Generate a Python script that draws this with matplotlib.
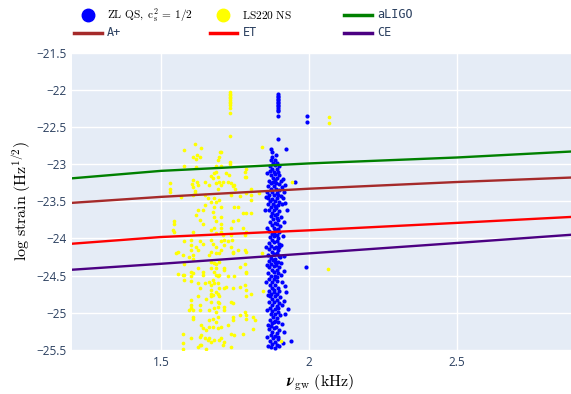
import matplotlib
matplotlib.use("Agg")
import matplotlib.pyplot as plt
from matplotlib.lines import Line2D
from matplotlib.ticker import FuncFormatter

plt.rcParams["mathtext.fontset"] = "cm"

# detector sensitivity curves (log strain vs frequency in kHz)
freq = [1.2, 1.5, 2.0, 2.5, 2.885]
aligo = [-23.19, -23.09, -22.99, -22.91, -22.83]
aplus = [-23.52, -23.44, -23.33, -23.24, -23.18]
et = [-24.07, -23.98, -23.89, -23.79, -23.71]
ce = [-24.42, -24.34, -24.20, -24.06, -23.95]

# ZL QS points
zl_stack = [(1.895, y) for y in [-22.06, -22.08, -22.10, -22.12, -22.14, -22.16,
                                  -22.18, -22.20, -22.22, -22.24, -22.27, -22.29,
                                  -22.35, -22.66]]
zl_outliers = [(1.993, -22.35), (1.993, -22.43), (1.873, -22.79), (1.922, -22.79),
               (1.875, -22.84), (1.888, -22.87), (1.951, -23.24), (1.990, -24.39),
               (1.923, -24.72), (1.940, -25.38)]
zl_main = [
    (1.875, -22.91), (1.870, -22.94), (1.885, -22.95), (1.878, -22.98), (1.892, -22.99),
    (1.868, -23.02), (1.884, -23.01), (1.897, -23.03), (1.875, -23.06), (1.890, -23.07),
    (1.880, -23.10), (1.895, -23.11), (1.868, -23.09), (1.872, -23.14), (1.886, -23.13),
    (1.900, -23.15), (1.878, -23.18), (1.893, -23.19), (1.866, -23.22), (1.884, -23.21),
    (1.905, -23.23), (1.873, -23.26), (1.889, -23.25), (1.898, -23.27), (1.862, -23.30),
    (1.880, -23.29), (1.910, -23.31), (1.870, -23.34), (1.887, -23.33), (1.900, -23.35),
    (1.858, -23.38), (1.876, -23.37), (1.893, -23.39), (1.915, -23.38), (1.865, -23.42),
    (1.882, -23.41), (1.905, -23.43), (1.860, -23.46), (1.874, -23.47), (1.890, -23.45),
    (1.912, -23.46), (1.868, -23.50), (1.885, -23.49), (1.898, -23.51), (1.862, -23.54),
    (1.878, -23.53), (1.895, -23.55), (1.908, -23.54), (1.872, -23.58), (1.888, -23.59),
    (1.866, -23.62), (1.882, -23.61), (1.900, -23.63), (1.876, -23.66), (1.892, -23.67),
    (1.870, -23.70), (1.886, -23.69), (1.904, -23.71), (1.878, -23.74), (1.895, -23.75),
    (1.868, -23.78), (1.884, -23.79), (1.874, -23.82), (1.890, -23.81), (1.902, -23.83),
    (1.880, -23.86), (1.896, -23.87), (1.866, -23.90), (1.884, -23.89), (1.900, -23.91),
    (1.874, -23.94), (1.890, -23.95), (1.868, -23.98), (1.882, -23.97), (1.896, -23.99),
    (1.876, -24.02), (1.892, -24.03), (1.864, -24.06), (1.880, -24.05), (1.898, -24.07),
    (1.872, -24.10), (1.888, -24.11), (1.904, -24.09), (1.866, -24.14), (1.882, -24.13),
    (1.896, -24.15), (1.876, -24.18), (1.892, -24.19), (1.862, -24.22), (1.880, -24.21),
    (1.900, -24.23), (1.870, -24.26), (1.886, -24.27), (1.902, -24.25), (1.864, -24.30),
    (1.878, -24.29), (1.894, -24.31), (1.872, -24.34), (1.888, -24.35), (1.906, -24.33),
    (1.866, -24.38), (1.882, -24.37), (1.898, -24.39), (1.874, -24.42), (1.890, -24.43),
    (1.862, -24.46), (1.880, -24.45), (1.896, -24.47), (1.870, -24.50), (1.886, -24.51),
    (1.904, -24.49), (1.866, -24.54), (1.882, -24.55), (1.874, -24.58), (1.892, -24.57),
    (1.908, -24.59), (1.868, -24.62), (1.884, -24.63), (1.876, -24.66), (1.894, -24.67),
    (1.864, -24.70), (1.882, -24.69), (1.900, -24.71), (1.872, -24.74), (1.890, -24.75),
    (1.868, -24.78), (1.884, -24.77), (1.902, -24.79), (1.876, -24.82), (1.892, -24.83),
    (1.866, -24.86), (1.880, -24.85), (1.898, -24.87), (1.874, -24.90), (1.890, -24.91),
    (1.908, -24.89), (1.868, -24.94), (1.884, -24.95), (1.876, -24.98), (1.894, -24.99),
    (1.870, -25.02), (1.886, -25.01), (1.902, -25.03), (1.878, -25.06), (1.892, -25.07),
    (1.868, -25.10), (1.884, -25.11), (1.876, -25.14), (1.896, -25.13), (1.910, -25.15),
    (1.872, -25.18), (1.888, -25.19), (1.866, -25.22), (1.882, -25.21), (1.900, -25.23),
    (1.876, -25.26), (1.892, -25.27), (1.870, -25.30), (1.886, -25.31), (1.878, -25.34),
    (1.896, -25.35), (1.868, -25.38), (1.884, -25.39), (1.876, -25.42), (1.892, -25.43),
    (1.872, -25.46), (1.886, -25.47), (1.900, -25.45),
]
zl_edges = [
    (1.858, -23.12), (1.912, -23.20), (1.855, -23.44), (1.920, -23.52), (1.918, -23.28),
    (1.852, -23.62), (1.914, -23.78), (1.858, -23.86), (1.912, -23.96), (1.856, -24.12),
    (1.914, -24.24), (1.858, -24.36), (1.916, -24.44), (1.856, -24.58), (1.918, -24.64),
    (1.860, -24.76), (1.914, -24.84), (1.858, -24.96), (1.920, -25.02), (1.860, -25.16),
    (1.916, -25.26), (1.858, -25.32), (1.912, -25.40), (1.862, -25.44), (1.928, -24.95),
    (1.925, -23.62), (1.879, -23.24), (1.896, -23.42), (1.884, -23.56), (1.893, -23.72),
    (1.880, -23.92), (1.897, -24.12), (1.884, -24.32), (1.893, -24.52), (1.880, -24.72),
    (1.896, -24.93), (1.882, -25.12), (1.894, -25.32),
]

# LS220 NS points
ls_stack = [(1.733, y) for y in [-22.03, -22.05, -22.07, -22.09, -22.11, -22.14,
                                  -22.16, -22.18, -22.20, -22.24, -22.31, -22.62]]
ls_outliers = [(1.841, -22.77), (2.069, -22.37), (2.069, -22.44), (1.943, -23.24),
               (1.804, -23.33), (1.804, -23.42), (1.832, -23.39), (1.804, -23.48),
               (1.804, -23.66), (1.841, -24.20), (2.064, -24.41), (1.804, -24.74),
               (1.846, -24.70), (1.812, -25.05), (1.818, -25.10), (1.810, -25.22),
               (1.906, -25.38)]
ls_main = [
    (1.578, -22.81), (1.613, -22.73), (1.636, -22.78), (1.700, -22.83), (1.702, -22.84),
    (1.609, -22.91), (1.620, -22.88), (1.630, -22.91), (1.618, -22.93), (1.695, -22.90),
    (1.693, -22.95), (1.578, -23.02), (1.618, -23.04), (1.686, -23.03), (1.703, -23.03),
    (1.734, -22.97), (1.734, -23.00), (1.788, -23.06),
    (1.530, -23.25), (1.530, -23.33), (1.530, -23.38), (1.568, -23.44),
    (1.607, -23.21), (1.605, -23.27), (1.609, -23.31), (1.613, -23.36), (1.616, -23.39),
    (1.607, -23.42), (1.621, -23.24), (1.624, -23.28), (1.647, -23.24), (1.650, -23.42),
    (1.663, -23.28), (1.669, -23.16), (1.675, -23.19), (1.680, -23.12), (1.686, -23.10),
    (1.692, -23.17), (1.686, -23.26), (1.692, -23.33), (1.697, -23.24), (1.703, -23.28),
    (1.709, -23.24), (1.720, -23.12), (1.725, -23.24), (1.731, -23.15), (1.737, -23.26),
    (1.742, -23.30), (1.748, -23.28), (1.751, -23.33), (1.782, -23.17), (1.782, -23.10),
    (1.788, -23.39), (1.765, -23.43), (1.737, -23.42), (1.680, -23.46), (1.669, -23.51),
    (1.658, -23.46), (1.647, -23.55), (1.641, -23.62), (1.624, -23.62), (1.618, -23.69),
    (1.630, -23.75), (1.641, -23.80), (1.675, -23.64), (1.680, -23.57), (1.686, -23.51),
    (1.697, -23.48), (1.703, -23.57), (1.680, -23.71), (1.686, -23.77), (1.703, -23.71),
    (1.703, -23.80), (1.703, -23.86), (1.748, -23.57), (1.759, -23.57), (1.776, -23.66),
    (1.788, -23.66), (1.788, -23.17), (1.759, -23.75), (1.742, -23.77), (1.545, -23.77),
    (1.545, -23.80), (1.539, -23.89), (1.545, -23.91), (1.607, -23.91), (1.669, -23.89),
    (1.680, -23.86), (1.686, -23.93), (1.703, -23.91), (1.709, -23.95), (1.737, -23.86),
    (1.737, -23.95), (1.740, -24.02), (1.737, -24.11), (1.742, -24.20), (1.776, -23.86),
    (1.782, -23.95), (1.788, -23.91),
    (1.579, -24.04), (1.601, -24.02), (1.601, -24.09), (1.630, -24.04), (1.641, -24.07),
    (1.618, -24.11), (1.624, -24.16), (1.601, -24.16), (1.607, -24.22), (1.669, -24.02),
    (1.675, -24.07), (1.686, -24.11), (1.703, -24.04), (1.714, -24.02), (1.703, -24.16),
    (1.669, -24.18), (1.663, -24.22), (1.686, -24.20), (1.697, -24.20), (1.714, -24.09),
    (1.725, -24.04), (1.742, -24.18), (1.759, -24.16), (1.782, -24.16), (1.788, -24.18),
    (1.556, -24.18), (1.551, -24.20), (1.573, -24.22), (1.596, -24.25), (1.607, -24.27),
    (1.577, -24.34), (1.556, -24.48), (1.573, -24.49), (1.579, -24.49), (1.601, -24.45),
    (1.607, -24.46), (1.624, -24.40), (1.641, -24.45), (1.641, -24.49), (1.669, -24.40),
    (1.669, -24.31), (1.680, -24.33), (1.686, -24.34), (1.697, -24.31), (1.680, -24.45),
    (1.686, -24.49), (1.692, -24.51), (1.697, -24.49), (1.686, -24.40), (1.714, -24.40),
    (1.714, -24.43), (1.725, -24.51), (1.748, -24.51), (1.765, -24.38), (1.782, -24.34),
    (1.788, -24.45), (1.788, -24.47), (1.601, -24.51), (1.601, -24.57), (1.579, -24.56),
    (1.624, -24.60), (1.630, -24.67), (1.647, -24.60), (1.663, -24.58), (1.669, -24.63),
    (1.675, -24.56), (1.680, -24.60), (1.692, -24.60), (1.697, -24.67), (1.686, -24.72),
    (1.669, -24.69), (1.669, -24.74), (1.675, -24.76), (1.669, -24.78), (1.692, -24.74),
    (1.697, -24.78), (1.714, -24.67), (1.720, -24.65), (1.742, -24.67), (1.765, -24.65),
    (1.782, -24.63), (1.788, -24.69), (1.788, -24.78), (1.624, -24.78), (1.652, -24.81),
    (1.692, -24.85), (1.697, -24.87), (1.714, -24.92), (1.714, -24.96), (1.692, -24.92),
    (1.669, -24.85), (1.601, -24.83), (1.601, -24.90), (1.601, -24.94), (1.596, -24.96),
    (1.607, -24.96), (1.630, -24.90), (1.630, -24.96), (1.607, -25.05), (1.607, -25.08),
    (1.663, -24.96), (1.680, -24.94), (1.686, -24.99), (1.692, -25.05), (1.686, -25.12),
    (1.675, -25.08), (1.663, -25.10), (1.737, -24.85), (1.742, -24.87), (1.765, -25.03),
    (1.782, -24.99), (1.788, -25.03), (1.788, -25.08), (1.742, -25.05), (1.742, -25.10),
    (1.635, -25.17), (1.641, -25.21), (1.652, -25.23), (1.663, -25.19), (1.675, -25.19),
    (1.692, -25.21), (1.703, -25.19), (1.725, -25.17), (1.737, -25.28), (1.748, -25.30),
    (1.776, -25.28), (1.573, -25.28), (1.601, -25.34), (1.630, -25.32), (1.635, -25.30),
    (1.647, -25.34), (1.658, -25.37), (1.663, -25.34), (1.669, -25.39), (1.680, -25.37),
    (1.697, -25.37), (1.703, -25.34), (1.714, -25.39), (1.630, -25.43), (1.624, -25.46),
    (1.635, -25.43), (1.709, -25.43), (1.737, -25.46), (1.652, -25.48), (1.573, -25.40),
    (1.573, -25.48),
]

zl = zl_stack + zl_outliers + zl_main + zl_edges
ls = ls_stack + ls_outliers + ls_main

fig = plt.figure(figsize=(5.71, 3.94), dpi=100)
ax = fig.add_axes([0.1266, 0.1117, 0.8734, 0.7546])
ax.set_facecolor("#E5ECF6")
for s in ax.spines.values():
    s.set_visible(False)
ax.grid(True, color="white", linewidth=1)
ax.set_axisbelow(True)

ax.scatter([p[0] for p in zl], [p[1] for p in zl], s=9, color="#0000FF",
           linewidths=0, zorder=2)
ax.scatter([p[0] for p in ls], [p[1] for p in ls], s=7, color="#FFFF00",
           linewidths=0, zorder=3)

ax.plot(freq, aligo, color="green", lw=1.7, zorder=4)
ax.plot(freq, aplus, color="brown", lw=1.7, zorder=4)
ax.plot(freq, et, color="red", lw=1.7, zorder=4)
ax.plot(freq, ce, color="indigo", lw=1.7, zorder=4)

ax.set_xlim(1.2, 2.885)
ax.set_ylim(-25.5, -21.5)
ax.set_xticks([1.5, 2.0, 2.5])
ax.set_yticks([-21.5, -22, -22.5, -23, -23.5, -24, -24.5, -25, -25.5])
fmt = FuncFormatter(lambda v, p: ("%g" % v).replace("-", "\u2212"))
ax.xaxis.set_major_formatter(fmt)
ax.yaxis.set_major_formatter(fmt)
ax.tick_params(length=0, pad=4, labelsize=8.5, labelcolor="#2a3f5f")
for lab in ax.get_xticklabels() + ax.get_yticklabels():
    lab.set_fontfamily("Open Sans")

fig.text(0.038, 0.49, r"$\mathrm{log\ strain\ (Hz^{1/2})}$", rotation=90,
         ha="center", va="center", fontsize=11.5)
fig.text(0.56, 0.028, r"$\boldsymbol{\nu}_{\mathrm{gw}}\ \mathrm{(kHz)}$",
         ha="center", va="center", fontsize=11.5)

# legend drawn by hand in two rows
def swatch_line(x0, x1, y, color):
    fig.add_artist(Line2D([x0 / 571, x1 / 571], [1 - y / 394, 1 - y / 394],
                          color=color, lw=2.5, transform=fig.transFigure))

def swatch_dot(x, y, color):
    fig.add_artist(Line2D([x / 571], [1 - y / 394], marker="o", markersize=9,
                          color=color, linestyle="none", transform=fig.transFigure))

swatch_dot(88, 15, "#0000FF")
fig.text(107 / 571, 1 - 15 / 394, r"$\mathrm{ZL\ QS,\ c_s^2}\,=\,1/2$", va="center",
         fontsize=8.2)
swatch_dot(223, 15, "#FFFF00")
fig.text(242 / 571, 1 - 15 / 394, r"$\mathrm{LS220\ NS}$", va="center", fontsize=8.2)
swatch_line(344, 372, 15, "green")
fig.text(377 / 571, 1 - 15 / 394, "aLIGO", va="center", fontsize=8.5,
         family="DejaVu Sans Mono", color="#2a3f5f")
swatch_line(74, 102, 33, "brown")
fig.text(107 / 571, 1 - 33 / 394, "A+", va="center", fontsize=8.5,
         family="DejaVu Sans Mono", color="#2a3f5f")
swatch_line(210, 237, 33, "red")
fig.text(243 / 571, 1 - 33 / 394, "ET", va="center", fontsize=8.5,
         family="DejaVu Sans Mono", color="#2a3f5f")
swatch_line(344, 372, 33, "indigo")
fig.text(377 / 571, 1 - 33 / 394, "CE", va="center", fontsize=8.5,
         family="DejaVu Sans Mono", color="#2a3f5f")

fig.savefig("out.png", dpi=100)
